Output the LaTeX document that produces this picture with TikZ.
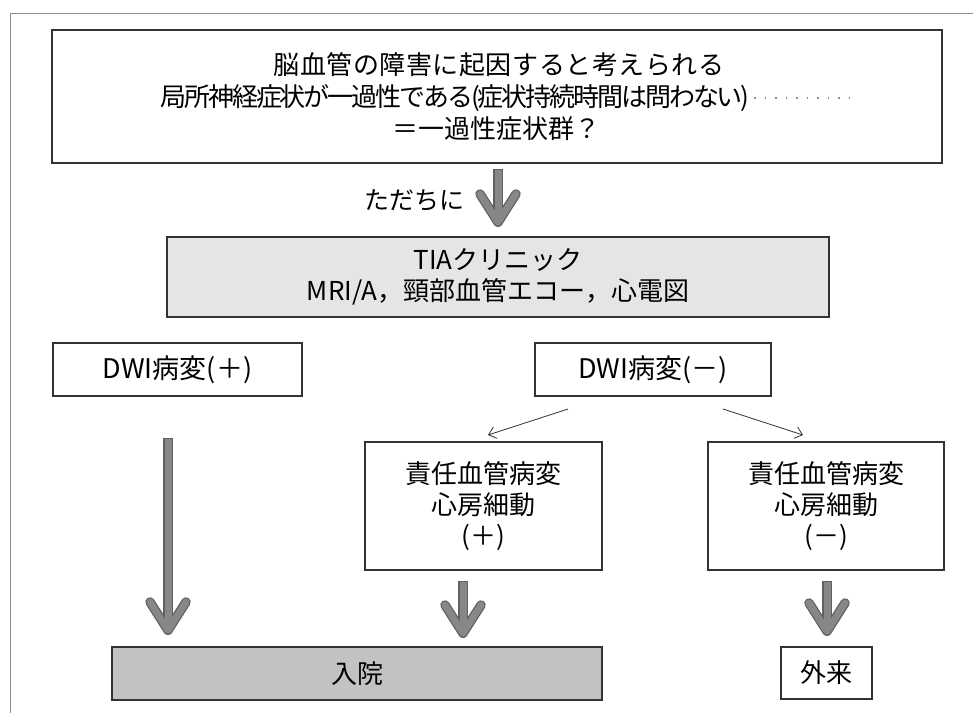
\documentclass[tikz,border=0pt]{standalone}
\usepackage{fontspec}
\setmainfont{Noto Sans CJK JP}
\usetikzlibrary{calc,arrows.meta}
\tikzset{
  box/.style={draw=black!80, line width=1.1pt, inner sep=0pt, align=center,
    font=\fontsize{26}{31}\selectfont},
  lightfill/.style={fill=black!10},
  darkfill/.style={fill=black!24},
  arrout/.style={draw=black!62, line width=9.5pt},
  arrin/.style={draw=black!47, line width=7pt},
  thinarr/.style={draw=black!80, line width=0.8pt, -{Straight Barb[length=7pt,width=12pt]}},
  frameline/.style={draw=black!45, line width=0.8pt}
}
\newcommand\bigarr[2]{%
  \draw[arrout, line cap=butt] ($(#1)+(0,-1)$) -- ($(#2)+(0,-12)$);
  \draw[arrout, line cap=round, line join=round] ($(#2)+(-18,-33)$) -- ($(#2)+(0,-4.75)$) -- ($(#2)+(18,-33)$);
  \draw[arrin, line cap=butt] (#1) -- ($(#2)+(0,-12)$);
  \draw[arrin, line cap=round, line join=round] ($(#2)+(-18,-33)$) -- ($(#2)+(0,-4.75)$) -- ($(#2)+(18,-33)$);
}
\begin{document}
\begin{tikzpicture}[x=1pt,y=-1pt]
\useasboundingbox[fill=white] (0,0) rectangle (973,713);
% outer frame (page edges)
\coordinate (fa) at (10,713);
\coordinate (fb) at (10,13);
\coordinate (fc) at (973,13);
\draw[frameline] (fa) -- (fb) -- (fc);

% top box
\node[box, minimum width=890pt, minimum height=133pt] (top) at (497,96.5) {};
\node[font=\fontsize{26}{31}\selectfont\addfontfeatures{LetterSpace=2}] (t1) at (499,65) {脳血管の障害に起因すると考えられる};
\node[font=\fontsize{26}{31}\selectfont\addfontfeatures{LetterSpace=-8}] (t2) at (455,98) {局所神経症状が一過性である(症状持続時間は問わない)};
\node[font=\fontsize{26}{31}\selectfont] (t3) at (496,129) {＝一過性症状群？};
\coordinate (d1) at (754,98);
\coordinate (d2) at (852,98);
\draw[black!45, line width=1.2pt, dash pattern=on 1.5pt off 9pt] (d1) -- (d2);

% immediately
\node[font=\fontsize{25}{30}\selectfont] (now) at (414,200) {ただちに};
\coordinate (a0s) at (498,170);
\coordinate (a0e) at (498,227);
\bigarr{a0s}{a0e}

% TIA clinic
\node[box, lightfill, minimum width=662pt, minimum height=80pt] (tia) at (498,277)
  {TIAクリニック\\MRI/A，頸部血管エコー，心電図};

% DWI boxes
\node[box, font=\fontsize{27}{31}\selectfont, minimum width=249pt, minimum height=53pt] (dwip) at (177.5,369.5) {DWI病変(＋)};
\node[box, font=\fontsize{27}{31}\selectfont, minimum width=236pt, minimum height=53pt] (dwim) at (653,369.5) {DWI病変(－)};

% thin arrows
\coordinate (s1) at (568,409);
\coordinate (e1) at (488,435);
\coordinate (s2) at (723,409);
\coordinate (e2) at (803,435);
\draw[thinarr] (s1) -- (e1);
\draw[thinarr] (s2) -- (e2);

% responsible lesion boxes
\node[box, minimum width=237pt, minimum height=128pt] (resp) at (483.5,506)
  {責任血管病変\\心房細動\\(＋)};
\node[box, minimum width=236pt, minimum height=128pt] (resm) at (826,506)
  {責任血管病変\\心房細動\\(－)};

% big arrows
\coordinate (a1s) at (168,439);
\coordinate (a1e) at (168,635);
\bigarr{a1s}{a1e}
\coordinate (a2s) at (463,582);
\coordinate (a2e) at (463,638);
\bigarr{a2s}{a2e}
\coordinate (a3s) at (827,582);
\coordinate (a3e) at (827,636);
\bigarr{a3s}{a3e}

% outcome boxes
\node[box, darkfill, minimum width=490pt, minimum height=53pt] (nyuin) at (357,673.5) {入院};
\node[box, minimum width=91pt, minimum height=52pt] (gairai) at (826.5,673) {外来};
\end{tikzpicture}
\end{document}
